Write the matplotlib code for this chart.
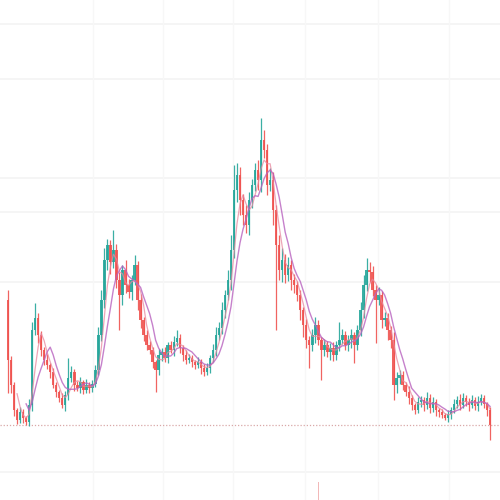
import numpy as np
import matplotlib
matplotlib.use("Agg")
from matplotlib import pyplot as plt

# closing prices, one per candle
closes = [140, 115, 90, 80, 88, 82, 78, 95, 170, 182,
          165, 150, 140, 135, 128, 115, 108, 102, 95, 105,
          122, 128, 115, 112, 118, 110, 115, 112, 116, 130,
          165, 200, 240, 255, 238, 250, 220, 205, 230, 215,
          208, 220, 235, 200, 180, 165, 155, 150, 138, 130,
          145, 148, 142, 155, 150, 158, 162, 152, 145, 140,
          142, 138, 135, 138, 132, 128, 132, 142, 150, 165,
          172, 190, 205, 220, 250, 310, 325, 300, 285, 275,
          300, 315, 330, 320, 360, 350, 315, 320, 290, 255,
          230, 240, 225, 235, 220, 215, 205, 190, 175, 160,
          155, 165, 175, 160, 150, 155, 148, 152, 145, 155,
          160, 165, 155, 160, 165, 155, 170, 190, 215, 230,
          228, 210, 200, 205, 180, 182, 170, 160, 115, 122,
          125, 115, 108, 102, 95, 90, 98, 100, 95, 102,
          92, 98, 90, 88, 85, 82, 86, 90, 96, 100,
          95, 102, 98, 95, 100, 94, 98, 102, 96, 90,
          75]
first_open = 200

# wick lengths above / below the body
upper_wick = [10, 4, 3, 2, 5, 3, 2, 6, 8, 15,
              5, 4, 3, 6, 2, 4, 3, 2, 5, 4,
              20, 6, 3, 4, 5, 2, 6, 3, 4, 5,
              8, 10, 12, 6, 5, 20, 6, 8, 5, 10,
              6, 5, 10, 4, 6, 3, 5, 4, 3, 2,
              6, 4, 5, 3, 4, 6, 8, 4, 3, 5,
              4, 3, 2, 5, 3, 4, 5, 3, 6, 8,
              6, 8, 5, 10, 15, 25, 12, 8, 6, 10,
              8, 6, 7, 10, 22, 10, 6, 12, 8, 5,
              10, 12, 6, 8, 5, 6, 4, 5, 3, 6,
              4, 6, 8, 5, 3, 6, 4, 5, 6, 4,
              18, 6, 4, 5, 6, 3, 5, 8, 10, 12,
              8, 6, 5, 8, 4, 6, 5, 4, 8, 6,
              5, 4, 3, 6, 3, 2, 5, 4, 3, 6,
              4, 5, 3, 2, 3, 2, 4, 3, 5, 4,
              6, 5, 3, 4, 5, 3, 6, 4, 3, 2,
              3]
lower_wick = [33, 8, 6, 4, 3, 5, 3, 4, 6, 5,
              8, 6, 5, 4, 6, 3, 5, 4, 3, 6,
              5, 4, 6, 3, 5, 4, 3, 5, 4, 3,
              5, 6, 8, 10, 12, 6, 8, 35, 10, 8,
              6, 8, 5, 10, 8, 6, 5, 4, 6, 22,
              5, 6, 4, 5, 3, 6, 4, 5, 6, 4,
              3, 5, 4, 3, 6, 4, 3, 5, 4, 6,
              5, 6, 8, 5, 10, 8, 12, 15, 10, 8,
              10, 8, 6, 10, 12, 8, 10, 6, 15, 85,
              10, 12, 8, 6, 10, 8, 6, 10, 12, 8,
              23, 6, 8, 5, 30, 6, 5, 8, 6, 5,
              6, 4, 5, 6, 8, 18, 5, 6, 8, 6,
              10, 6, 43, 5, 8, 6, 10, 8, 15, 8,
              6, 5, 4, 6, 5, 4, 3, 5, 6, 4,
              5, 4, 6, 5, 3, 2, 4, 5, 3, 4,
              5, 3, 4, 6, 3, 4, 5, 3, 4, 6,
              15]

last_price = 75
vol_index = [103]
vol_value = [91]

grid_prices = [476, 421, 322, 288, 218, 28]
grid_candles = [28.2, 51.5, 74.7, 98.6, 122.9, 146.4]

closes = np.array(closes, dtype=float)
opens = np.concatenate([[first_open], closes[:-1]])
highs = np.maximum(opens, closes) + np.array(upper_wick)
lows = np.minimum(opens, closes) - np.array(lower_wick)
idx = np.arange(len(closes))

UP = "#26a69a"
DOWN = "#ef5350"

fig = plt.figure(figsize=(5, 5), dpi=100)
ax = fig.add_axes([0, 0, 1, 1])
ax.set_xlim(-2.66, 163.3)
ax.set_ylim(0, 500)
ax.axis("off")

for gp in grid_prices:
    ax.axhline(gp, color="#f3f3f3", lw=1.2, zorder=0)
for gc in grid_candles:
    ax.axvline(gc, color="#f7f7f7", lw=1, zorder=0)

colors = np.where(closes >= opens, UP, DOWN)
ax.vlines(idx, lows, highs, colors=colors, lw=0.9, alpha=0.9, zorder=2)
ax.bar(idx, np.abs(closes - opens) + 0.5, bottom=np.minimum(opens, closes),
       width=0.8, color=colors, alpha=0.9, zorder=2)

# moving averages
ma4 = np.convolve(closes, np.ones(4) / 4, mode="valid")
ma7 = np.convolve(closes, np.ones(7) / 7, mode="valid")
ax.plot(idx[3:], ma4, color="#e8889f", lw=0.9, alpha=0.75, zorder=3)
ax.plot(idx[6:], ma7, color="#b862bf", lw=1.0, alpha=0.8, zorder=3)

ax.axhline(last_price, color="#d9a8a8", lw=0.9, ls=(0, (1, 1.5)), zorder=1)

# volume pane, mostly below the visible area
vax = fig.add_axes([0, -0.1, 1, 0.15])
vax.set_xlim(ax.get_xlim())
vax.set_ylim(0, 100)
vax.axis("off")
vax.bar(vol_index, vol_value, width=0.4, color="#f2b8b8")

fig.savefig("out.png", dpi=100)
